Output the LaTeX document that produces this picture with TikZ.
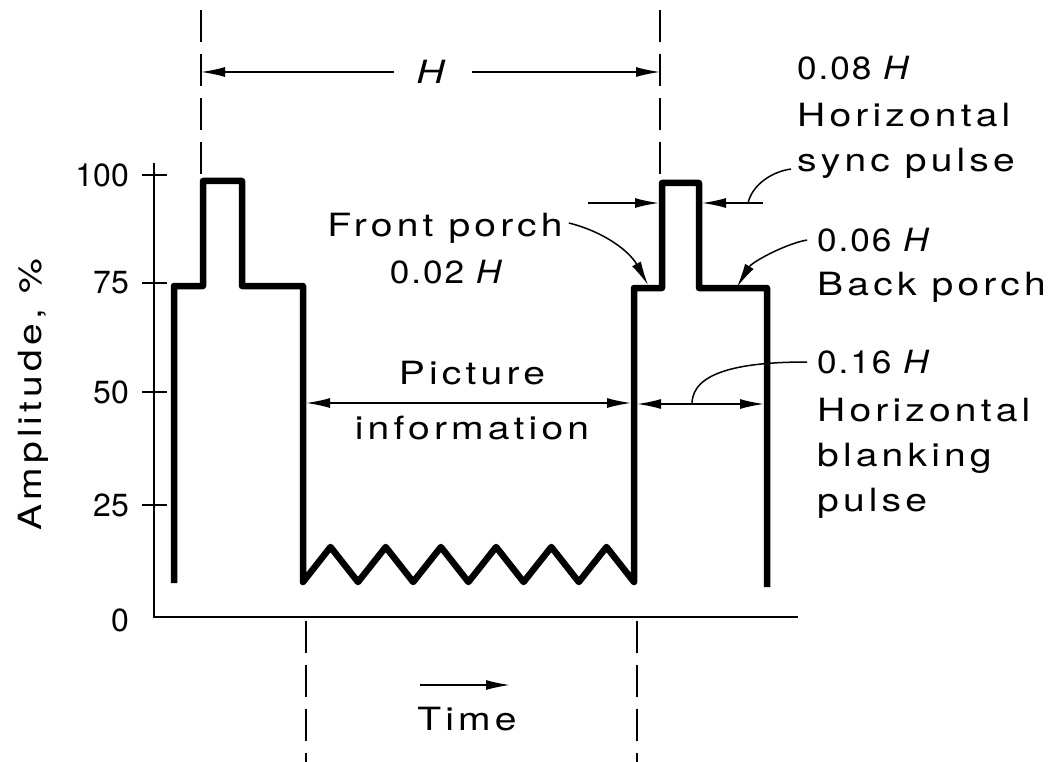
\documentclass[tikz,border=0pt]{standalone}
\usepackage{fontspec}
\setmainfont{TeX Gyre Heros}[FakeStretch=1.22, LetterSpace=13]
\newfontfamily\tickfont{TeX Gyre Heros}
\newfontfamily\numfont{TeX Gyre Heros}[FakeStretch=1.1, LetterSpace=6]
\usetikzlibrary{arrows.meta}
\begin{document}
\begin{tikzpicture}[x=1pt,y=-1pt,
  every node/.style={font=\fontsize{32}{38}\selectfont, inner sep=0pt},
  ticklabel/.style={anchor=east, font=\fontsize{32}{38}\selectfont\tickfont},
  numlabel/.style={font=\fontsize{32}{38}\selectfont\numfont},
  wave/.style={line width=6.5pt, line join=round},
  axisline/.style={line width=2.4pt},
  dimline/.style={line width=1.6pt},
  dashline/.style={line width=2.2pt, dash pattern=on 32pt off 12pt},
  arr/.style={-{Latex[length=24pt,width=10pt]}},
  arrs/.style={{Latex[length=24pt,width=10pt]}-{Latex[length=24pt,width=10pt]}},
  leader/.style={line width=1.5pt}]
\useasboundingbox (0,0) rectangle (1057,762);

% axes
\draw[axisline] (154,163) -- (154,617) -- (798,617);
\foreach \yy in {175,283,392,505} \draw[axisline] (142,\yy) -- (167,\yy);
\node[ticklabel] (l100) at (129,175) {100};
\node[ticklabel] (l75) at (129,283) {75};
\node[ticklabel] (l50) at (129,392) {50};
\node[ticklabel] (l25) at (129,505) {25};
\node[ticklabel] (l0) at (129,620) {0};
\node[rotate=90] (amp) at (33,395) {Amplitude, \%};

% waveform
\draw[wave] (174,583) -- (174,286) -- (203,286) -- (203,181) -- (242,181) -- (242,286) -- (303,286) -- (303,582)
  \foreach \i in {0,...,5} { -- ({330.5+55.2*\i},547) -- ({358+55.2*\i},582) }
  -- (634,288) -- (662,288) -- (662,183) -- (699,183) -- (699,288) -- (767,288) -- (767,587);

% dashed lines
\draw[dashline] (201,10) -- (201,178);
\draw[dashline] (660,10) -- (660,180);
\draw[dashline] (306,621) -- (306,762);
\draw[dashline] (637,621) -- (637,762);

% H dimension
\coordinate (hL) at (201,72);
\coordinate (hR) at (660,72);
\node[inner xsep=22pt] (Hlab) at (433,72) {\textit{H}};
\draw[dimline,arr] (Hlab.west) -- (hL);
\draw[dimline,arr] (Hlab.east) -- (hR);

% picture information
\coordinate (pL) at (306,403);
\coordinate (pR) at (631,403);
\draw[dimline,arrs] (pL) -- (pR);
\node (pic1) at (472,373) {Picture};
\node (pic2) at (472,428) {information};

% blanking
\coordinate (bL) at (637,404);
\coordinate (bR) at (764,404);
\draw[dimline,arrs] (bL) -- (bR);

% sync width arrows
\coordinate (s1) at (588,203);
\coordinate (s1e) at (659,203);
\coordinate (s2) at (763,203);
\coordinate (s2e) at (702,203);
\draw[dimline,arr] (s1) -- (s1e);
\draw[dimline,arr] (s2) -- (s2e);

% right labels
\node[numlabel, anchor=west] (t08) at (797,68) {0.08 \textit{H}};
\node[anchor=west] (thor) at (797,115) {Horizontal};
\node[anchor=west] (tsync) at (797,163) {sync pulse};
\draw[leader] (748,203) .. controls (752,186) and (770,172) .. ([shift={(-6,6)}]tsync.west);

\node[numlabel, anchor=west] (t06) at (817,240) {0.06 \textit{H}};
\node[anchor=west] (tback) at (817,287) {Back porch};
\coordinate (bpt) at (737,287);
\draw[leader,arr] ([xshift=-10pt]t06.west) .. controls (785,244) and (752,262) .. (bpt);

\node[numlabel, anchor=west] (t16) at (817,362) {0.16 \textit{H}};
\node[anchor=west] (tblank1) at (817,410) {Horizontal};
\node[anchor=west] (tblank2) at (817,458) {blanking};
\node[anchor=west] (tblank3) at (817,503) {pulse};
\coordinate (blk) at (692,404);
\draw[leader] ([xshift=-10pt]t16.west) .. controls (740,362) and (692,372) .. (blk);

% front porch
\node (fp1) at (445,228) {Front porch};
\node[numlabel] (fp2) at (447,272) {0.02 \textit{H}};
\coordinate (fpt) at (648,285);
\draw[leader,arr] ([shift={(6,-5)}]fp1.east) .. controls (605,232) and (630,252) .. (fpt);

% time
\coordinate (ta1) at (420,685);
\coordinate (ta2) at (510,685);
\draw[dimline,arr] (ta1) -- (ta2);
\node (time) at (467,719) {Time};
\end{tikzpicture}
\end{document}
